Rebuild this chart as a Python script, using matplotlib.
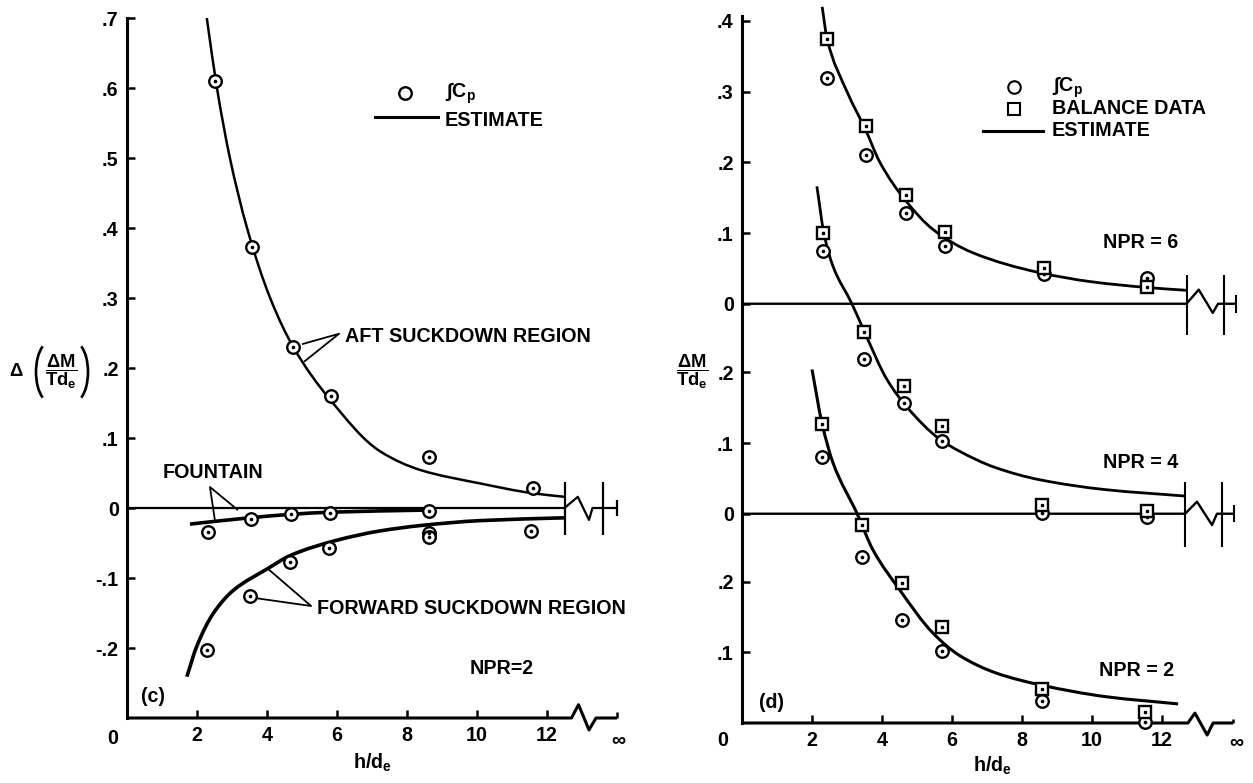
import matplotlib
matplotlib.use("Agg")
import matplotlib.pyplot as plt
from matplotlib.path import Path
from matplotlib.patches import PathPatch, Arc

plt.rcParams['font.family'] = ['Liberation Sans', 'DejaVu Sans']
plt.rcParams['font.weight'] = 'bold'
plt.rcParams['mathtext.fontset'] = 'custom'
plt.rcParams['mathtext.rm'] = 'Liberation Sans:bold'
plt.rcParams['mathtext.it'] = 'Liberation Sans:bold'
plt.rcParams['mathtext.bf'] = 'Liberation Sans:bold'
plt.rcParams['mathtext.sf'] = 'Liberation Sans:bold'

# ---------------- data: panel (c) ----------------
aft_h = [2.51, 3.57, 4.75, 5.83, 8.63, 11.6]
aft_v = [0.61, 0.373, 0.23, 0.16, 0.073, 0.029]
fountain_h = [2.31, 3.54, 4.69, 5.80, 8.63]
fountain_v = [-0.034, -0.016, -0.009, -0.007, -0.004]
fwd_h = [2.28, 3.51, 4.67, 5.78, 8.63, 8.63, 11.55]
fwd_v = [-0.203, -0.126, -0.077, -0.057, -0.036, -0.041, -0.033]

aft_est_h = [2.28, 2.57, 2.94, 3.43, 4.09, 4.75, 5.8, 7.23, 8.4, 10.1, 11.6, 12.5]
aft_est_v = [0.70, 0.60, 0.50, 0.40, 0.30, 0.23, 0.155, 0.081, 0.054, 0.035, 0.021, 0.016]
fountain_est_h = [1.8, 3.5, 4.7, 5.8, 8.5]
fountain_est_v = [-0.023, -0.014, -0.009, -0.006, -0.003]
fwd_est_h = [1.71, 1.99, 2.46, 3.03, 4.04, 4.66, 6.0, 7.2, 8.4, 10.1, 12.5]
fwd_est_v = [-0.241, -0.198, -0.151, -0.118, -0.086, -0.068, -0.046, -0.033, -0.025, -0.018, -0.014]

# ---------------- data: panel (d) ----------------
npr6_h = [2.43, 3.54, 4.69, 5.80, 8.63, 11.57]
npr6_sq = [0.374, 0.251, 0.154, 0.101, 0.050, 0.023]
npr6_ci = [0.319, 0.211, 0.129, 0.082, 0.042, 0.036]
npr6_est_h = [2.29, 2.43, 3.0, 3.54, 3.94, 4.69, 5.46, 6.6, 8.5, 10.0, 11.57, 12.7]
npr6_est_v = [0.42, 0.375, 0.30, 0.245, 0.20, 0.145, 0.105, 0.072, 0.044, 0.031, 0.023, 0.019]

npr4_h = [2.31, 3.49, 4.62, 5.71, 8.57, 11.57]
npr4_sq = [0.397, 0.257, 0.180, 0.124, 0.013, 0.004]
npr4_ci = [0.371, 0.219, 0.156, 0.103, 0.001, -0.004]
npr4_est_h = [2.14, 2.34, 2.6, 3.14, 3.51, 4.14, 4.71, 5.66, 6.23, 7.2, 8.51, 10.4, 12.66]
npr4_est_v = [0.463, 0.397, 0.35, 0.297, 0.256, 0.19, 0.151, 0.105, 0.088, 0.066, 0.048, 0.034, 0.025]

npr2_h = [2.29, 3.42, 4.58, 5.71, 8.57, 11.51]
npr2_sq = [0.423, 0.280, 0.198, 0.136, 0.048, 0.016]
npr2_ci = [0.376, 0.235, 0.146, 0.102, 0.031, 0.001]
npr2_est_h = [2.0, 2.29, 2.6, 3.29, 3.74, 4.51, 5.46, 6.23, 7.3, 8.51, 10.43, 12.46]
npr2_est_v = [0.50, 0.423, 0.368, 0.296, 0.245, 0.188, 0.127, 0.095, 0.07, 0.054, 0.037, 0.027]

left_yticks = [0.7, 0.6, 0.5, 0.4, 0.3, 0.2, 0.1, 0.0, -0.1, -0.2]
left_yticklabels = ['.7', '.6', '.5', '.4', '.3', '.2', '.1', '0', '-.1', '-.2']
xticks = [2, 4, 6, 8, 10, 12]
xticklabels = ['2', '4', '6', '8', '10', '12']
right_tick_vals = [0.4, 0.3, 0.2, 0.1, 0.0, 0.2, 0.1, 0.0, 0.2, 0.1]
right_tick_group = [6, 6, 6, 6, 6, 4, 4, 4, 2, 2]
right_tick_labels = ['.4', '.3', '.2', '.1', '0', '.2', '.1', '0', '.2', '.1']

# ---------------- layout ----------------
W, H = 1253, 783
fig = plt.figure(figsize=(W / 100, H / 100), dpi=100)
fig.patch.set_facecolor('white')

def P(x, y):
    return x / W, 1 - y / H

FS = 14.2
LW = 1.9
offsets = {6: 0.593, 4: 0.296, 2: 0.0}

def style_axes(ax):
    for s in ['top', 'right', 'bottom']:
        ax.spines[s].set_visible(False)
    ax.spines['left'].set_linewidth(2.2)
    ax.tick_params(direction='in', length=6, width=1.8, labelsize=FS, pad=6)
    ax.set_xlim(0, 14)
    ax.set_xticks(xticks)
    ax.set_xticklabels(xticklabels, fontweight='bold')
    ax.patch.set_alpha(0)

def circles(ax, h, v, off=0.0, z=5):
    vv = [x + off for x in v]
    ax.plot(h, vv, 'o', ms=9, mfc='white', mec='black', mew=1.7, ls='none', zorder=z, clip_on=False)
    ax.plot(h, vv, 'o', ms=1.6, color='black', ls='none', zorder=z + 0.5, clip_on=False)

def squares(ax, h, v, off=0.0, z=6):
    vv = [x + off for x in v]
    ax.plot(h, vv, 's', ms=9, mfc='white', mec='black', mew=1.7, ls='none', zorder=z, clip_on=False)
    ax.plot(h, vv, 's', ms=1.6, color='black', ls='none', zorder=z + 0.5, clip_on=False)

def line(ax, xs, ys, lw=LW, z=3):
    ax.plot(xs, ys, color='black', lw=lw, solid_capstyle='butt', zorder=z, clip_on=False)

def smooth(ax, xs, ys, off=0.0, lw=LW, z=3):
    """Draw a smooth curve through the read points (monotone cubic Bezier segments)."""
    ys = [y + off for y in ys]
    n = len(xs)
    d = [(ys[i + 1] - ys[i]) / (xs[i + 1] - xs[i]) for i in range(n - 1)]
    m = [0.0] * n
    m[0], m[-1] = d[0], d[-1]
    for i in range(1, n - 1):
        if d[i - 1] * d[i] <= 0:
            m[i] = 0.0
        else:
            w1 = 2 * (xs[i + 1] - xs[i]) + (xs[i] - xs[i - 1])
            w2 = (xs[i + 1] - xs[i]) + 2 * (xs[i] - xs[i - 1])
            m[i] = (w1 + w2) / (w1 / d[i - 1] + w2 / d[i])
    verts = [(xs[0], ys[0])]
    codes = [Path.MOVETO]
    for i in range(n - 1):
        dx = xs[i + 1] - xs[i]
        verts += [(xs[i] + dx / 3, ys[i] + m[i] * dx / 3),
                  (xs[i + 1] - dx / 3, ys[i + 1] - m[i + 1] * dx / 3),
                  (xs[i + 1], ys[i + 1])]
        codes += [Path.CURVE4] * 3
    ax.add_patch(PathPatch(Path(verts, codes), fill=False, lw=lw, ec='black',
                           zorder=z, clip_on=False, capstyle='butt'))

# ================= panel (c) =================
ax1 = fig.add_axes([127 / W, 1 - 718 / H, 490 / W, 700 / H])
style_axes(ax1)
ax1.set_ylim(-0.3, 0.7)
ax1.set_yticks(left_yticks)
ax1.set_yticklabels(left_yticklabels, fontweight='bold')

# bottom axis with break
line(ax1, [0, 12.7, 12.9, 13.2, 13.4, 14.0], [-0.3, -0.3, -0.281, -0.317, -0.3, -0.3], lw=2.2)
line(ax1, [14.0, 14.0], [-0.3, -0.292], lw=1.8)
# zero line with break
line(ax1, [0, 12.5, 12.88, 13.2, 13.3, 14.0], [0, 0, 0.016, -0.017, 0, 0], lw=1.6)
line(ax1, [12.5, 12.5], [-0.039, 0.037], lw=1.6)
line(ax1, [13.6, 13.6], [-0.039, 0.037], lw=1.6)
line(ax1, [14.0, 14.0], [-0.011, 0.011], lw=1.6)

smooth(ax1, aft_est_h, aft_est_v, lw=1.8)
smooth(ax1, fountain_est_h, fountain_est_v, lw=2.6)
smooth(ax1, fwd_est_h, fwd_est_v, lw=2.6)
circles(ax1, aft_h, aft_v)
circles(ax1, fountain_h, fountain_v)
circles(ax1, fwd_h, fwd_v)

# leaders
line(ax1, [5.0, 6.06, 5.06], [0.234, 0.249, 0.209], lw=1.3, z=4)
line(ax1, [2.51, 2.37, 3.17], [-0.017, 0.03, -0.003], lw=1.3, z=4)
line(ax1, [3.71, 5.26, 4.03], [-0.129, -0.14, -0.087], lw=1.3, z=4)

fig.text(*P(345, 336), 'AFT SUCKDOWN REGION', fontsize=FS, fontweight='bold', va='center', ha='left')
fig.text(*P(163, 473), 'FOUNTAIN', fontsize=FS, fontweight='bold', va='center', ha='left')
fig.text(*P(317, 609), 'FORWARD SUCKDOWN REGION', fontsize=FS, fontweight='bold', va='center', ha='left')
fig.text(*P(502, 669), 'NPR=2', fontsize=FS, fontweight='bold', va='center', ha='center')
fig.text(*P(153, 696), '(c)', fontsize=FS, fontweight='bold', va='center', ha='center')
fig.text(*P(113, 738), '0', fontsize=FS, fontweight='bold', va='center', ha='center')
fig.text(*P(618, 740), '∞', fontsize=FS, fontweight='bold', va='center', ha='center')
fig.text(*P(372, 763), r'$\mathrm{h/d_e}$', fontsize=FS, va='center', ha='center')
# y label of (c): Δ ( ΔM / Td_e ) with thin tall parentheses
fig.text(*P(16, 372), 'Δ', fontsize=FS - 1, fontweight='bold', va='center', ha='center')
fig.text(*P(61, 372), r'$\dfrac{\Delta M}{Td_e}$', fontsize=FS - 1, va='center', ha='center')
cx, cy = P(50, 372)
fig.patches.append(Arc((cx, cy), 28 / W, 60 / H, theta1=100, theta2=260, lw=1.9,
                       color='black', transform=fig.transFigure))
cx, cy = P(74, 372)
fig.patches.append(Arc((cx, cy), 28 / W, 60 / H, theta1=-80, theta2=80, lw=1.9,
                       color='black', transform=fig.transFigure))

# legend (c)
fig.lines.append(plt.Line2D(*zip(P(375, 117), P(438, 117)), color='black', lw=2.2, transform=fig.transFigure))
fig.lines.append(plt.Line2D([P(405, 93)[0]], [P(405, 93)[1]], marker='o', ms=9, mfc='white', mec='black', mew=1.7, transform=fig.transFigure))
fig.text(*P(445, 93), r'∫C$_\mathrm{p}$', fontsize=FS, va='center', ha='left')
fig.text(*P(445, 120), 'ESTIMATE', fontsize=FS, fontweight='bold', va='center', ha='left')

# ================= panel (d) =================
ax2 = fig.add_axes([742 / W, 1 - 723 / H, 490 / W, 707 / H])
style_axes(ax2)
ax2.set_ylim(0, 1.0)
ax2.set_yticks([v + offsets[g] for v, g in zip(right_tick_vals, right_tick_group)])
ax2.set_yticklabels(right_tick_labels, fontweight='bold')

o6, o4 = offsets[6], offsets[4]
# bottom axis with break
line(ax2, [0, 12.74, 12.94, 13.29, 13.46, 14.03], [0, 0, 0.014, -0.017, 0, 0], lw=2.2)
line(ax2, [14.03, 14.03], [0, 0.006], lw=1.8)
# NPR=6 zero line
line(ax2, [0, 12.7, 13.05, 13.45, 13.6, 14.1], [o6, o6, o6 + 0.02, o6 - 0.013, o6, o6], lw=1.7)
line(ax2, [12.7, 12.7], [o6 - 0.044, o6 + 0.041], lw=1.5)
line(ax2, [13.77, 13.77], [o6 - 0.044, o6 + 0.041], lw=1.5)
line(ax2, [14.1, 14.1], [o6 - 0.013, o6 + 0.013], lw=1.5)
# NPR=4 zero line
line(ax2, [0, 12.66, 13.0, 13.43, 13.57, 14.06], [o4, o4, o4 + 0.017, o4 - 0.016, o4, o4], lw=1.7)
line(ax2, [12.66, 12.66], [o4 - 0.047, o4 + 0.045], lw=1.5)
line(ax2, [13.7, 13.7], [o4 - 0.047, o4 + 0.045], lw=1.5)
line(ax2, [14.06, 14.06], [o4 - 0.012, o4 + 0.012], lw=1.5)

smooth(ax2, npr6_est_h, npr6_est_v, o6, lw=2.0)
smooth(ax2, npr4_est_h, npr4_est_v, o4, lw=2.0)
smooth(ax2, npr2_est_h, npr2_est_v, 0.0, lw=2.2)

circles(ax2, npr6_h, npr6_ci, o6)
squares(ax2, npr6_h, npr6_sq, o6)
circles(ax2, npr4_h, npr4_ci, o4)
squares(ax2, npr4_h, npr4_sq, o4)
circles(ax2, npr2_h, npr2_ci)
squares(ax2, npr2_h, npr2_sq)

fig.text(*P(1141, 243), 'NPR = 6', fontsize=FS, fontweight='bold', va='center', ha='center')
fig.text(*P(1141, 462), 'NPR = 4', fontsize=FS, fontweight='bold', va='center', ha='center')
fig.text(*P(1137, 671), 'NPR = 2', fontsize=FS, fontweight='bold', va='center', ha='center')
fig.text(*P(772, 702), '(d)', fontsize=FS, fontweight='bold', va='center', ha='center')
fig.text(*P(723, 740), '0', fontsize=FS, fontweight='bold', va='center', ha='center')
fig.text(*P(1236, 742), '∞', fontsize=FS, fontweight='bold', va='center', ha='center')
fig.text(*P(992, 766), r'$\mathrm{h/d_e}$', fontsize=FS, va='center', ha='center')
fig.text(*P(692, 372), r'$\dfrac{\Delta M}{Td_e}$', fontsize=FS - 1, va='center', ha='center')

# legend (d)
fig.lines.append(plt.Line2D(*zip(P(983, 131), P(1043, 131)), color='black', lw=2.2, transform=fig.transFigure))
fig.lines.append(plt.Line2D([P(1014, 87)[0]], [P(1014, 87)[1]], marker='o', ms=9, mfc='white', mec='black', mew=1.5, transform=fig.transFigure))
fig.lines.append(plt.Line2D([P(1014, 109)[0]], [P(1014, 109)[1]], marker='s', ms=9, mfc='white', mec='black', mew=1.5, transform=fig.transFigure))
fig.text(*P(1052, 87), r'∫C$_\mathrm{p}$', fontsize=FS, va='center', ha='left')
fig.text(*P(1052, 109), 'BALANCE DATA', fontsize=FS, fontweight='bold', va='center', ha='left')
fig.text(*P(1052, 131), 'ESTIMATE', fontsize=FS, fontweight='bold', va='center', ha='left')

fig.savefig('out.png', dpi=100, facecolor='white')
